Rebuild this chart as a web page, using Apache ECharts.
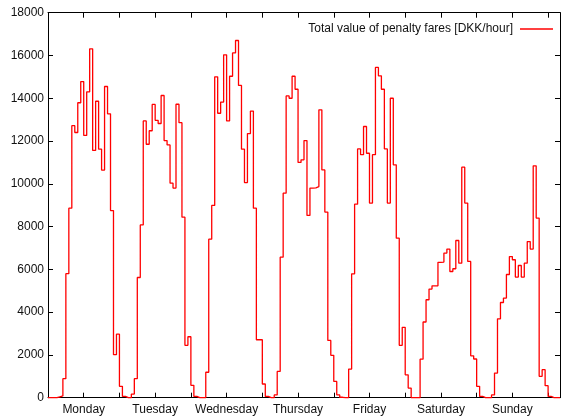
<!DOCTYPE html>
<html>
<head>
<meta charset="utf-8">
<script src="https://cdn.jsdelivr.net/npm/echarts@6/dist/echarts.min.js"></script>
<style>
html,body{margin:0;padding:0;background:#fff;}
#chart{width:563px;height:417px;}
</style>
</head>
<body>
<div id="chart"></div>
<script>
// Hourly values (DKK/hour), one array per day, hour 0..23
var monday    = [0, 0, 0, 40, 80, 890, 5800, 8860, 12720, 12400, 13790, 14780, 12260, 14300, 16310, 11560, 13860, 11620, 10640, 14550, 13270, 8750, 2010, 2970];
var tuesday   = [530, 60, 0, 0, 170, 890, 5620, 8080, 12940, 11850, 12480, 13710, 12970, 12820, 14130, 12020, 11820, 10030, 9800, 13720, 12860, 8440, 2450, 2850];
var wednesday = [580, 60, 0, 0, 0, 1190, 7410, 8990, 15000, 13300, 13820, 16030, 12940, 15030, 16120, 16700, 14600, 11620, 10060, 12350, 13400, 8860, 2710, 2710];
var thursday  = [640, 60, 0, 0, 130, 1230, 6570, 9560, 14110, 14000, 15030, 14420, 11000, 11120, 12020, 8520, 9800, 9810, 9870, 13460, 10650, 8680, 2680, 1980];
var friday    = [760, 130, 20, 0, 0, 1340, 5790, 9050, 11630, 11360, 12680, 11430, 9100, 11360, 15440, 15050, 14420, 11630, 9100, 14000, 10890, 7460, 2450, 3290];
var saturday  = [1070, 450, 0, 0, 0, 1800, 3540, 4580, 5080, 5230, 5230, 6330, 6340, 6760, 6950, 5900, 6030, 7350, 6290, 10780, 9100, 6370, 1960, 1810];
var sunday    = [530, 60, 0, 0, 0, 130, 1150, 3690, 4450, 4660, 5760, 6600, 6450, 5640, 6180, 5640, 6290, 7300, 6950, 10840, 8400, 1000, 1310, 560];
var tail      = [60, 0, 0, 0];

var dayNames = ["Monday", "Tuesday", "Wednesday", "Thursday", "Friday", "Saturday", "Sunday"];
var yTicks = [0, 2000, 4000, 6000, 8000, 10000, 12000, 14000, 16000, 18000];
var seriesName = "Total value of penalty fares [DKK/hour]";

var values = [].concat(monday, tuesday, wednesday, thursday, friday, saturday, sunday, tail);
var data = values.map(function (v, h) { return [h, v]; });
data.push([values.length, values[values.length - 1]]);

var FONT = "Liberation Sans, Arial, sans-serif";
var chart = echarts.init(document.getElementById('chart'), null, {renderer: 'canvas'});

function xLabel(v) {
  if ((v - 12) % 24 === 0) {
    var i = (v - 12) / 24;
    return dayNames[i] || '';
  }
  return '';
}

var axisLineStyle = {show: true, onZero: false, lineStyle: {color: '#000', width: 1}};
var tickStyle = {show: true, inside: true, length: 5, lineStyle: {color: '#000', width: 1}};

chart.setOption({
  animation: false,
  backgroundColor: '#fff',
  grid: {left: 48, right: 1, top: 12.7, bottom: 19.3, show: false},
  legend: {
    data: [{name: seriesName, icon: 'rect'}],
    right: 5,
    top: 17,
    align: 'right',
    itemWidth: 33,
    itemHeight: 1.4,
    itemGap: 0,
    textStyle: {fontFamily: FONT, fontSize: 12, color: '#111', lineHeight: 14, padding: [0, 2, 0, 0]}
  },
  xAxis: [{
    type: 'value', min: 0, max: 172, interval: 12, position: 'bottom',
    axisLine: axisLineStyle, axisTick: tickStyle,
    axisLabel: {formatter: xLabel, fontFamily: FONT, fontSize: 12, color: '#111', margin: 6, showMinLabel: true, showMaxLabel: true},
    splitLine: {show: false}
  }, {
    type: 'value', min: 0, max: 172, interval: 12, position: 'top',
    axisLine: axisLineStyle, axisTick: tickStyle,
    axisLabel: {show: false}, splitLine: {show: false}
  }],
  yAxis: [{
    type: 'value', min: yTicks[0], max: yTicks[yTicks.length - 1], interval: yTicks[1] - yTicks[0], position: 'left',
    axisLine: axisLineStyle, axisTick: tickStyle,
    axisLabel: {formatter: function (v) { return String(v); }, fontFamily: FONT, fontSize: 12, color: '#111', margin: 4},
    splitLine: {show: false}
  }, {
    type: 'value', min: yTicks[0], max: yTicks[yTicks.length - 1], interval: yTicks[1] - yTicks[0], position: 'right',
    axisLine: axisLineStyle, axisTick: tickStyle,
    axisLabel: {show: false}, splitLine: {show: false}
  }],
  series: [{
    name: seriesName,
    type: 'line',
    step: 'end',
    symbol: 'none',
    clip: false,
    xAxisIndex: 0, yAxisIndex: 0,
    data: data,
    lineStyle: {color: '#ff0000', width: 1.3},
    itemStyle: {color: '#ff0000'}
  }]
});
</script>
</body>
</html>
